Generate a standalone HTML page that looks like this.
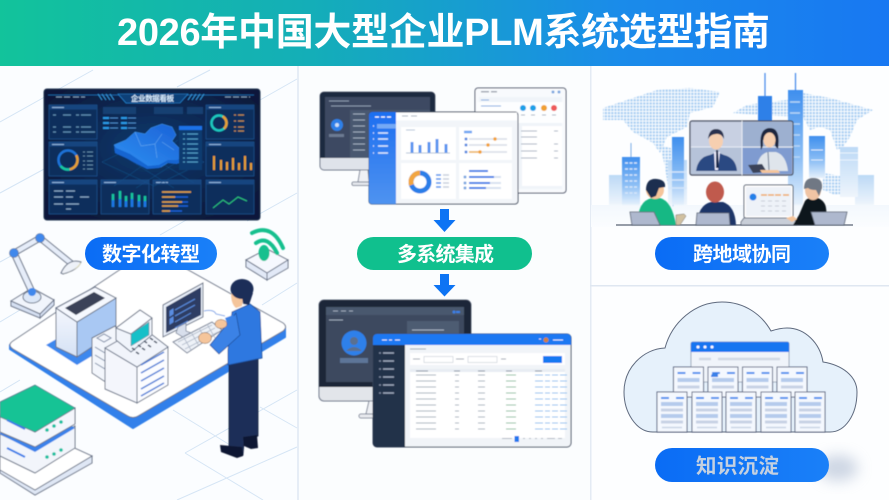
<!DOCTYPE html>
<html lang="zh"><head><meta charset="utf-8"><title>2026年中国大型企业PLM系统选型指南</title>
<style>html,body{margin:0;padding:0;background:#fff}svg{display:block}text{font-family:"Liberation Sans","Noto Sans CJK SC",sans-serif}</style></head>
<body>
<svg xmlns="http://www.w3.org/2000/svg" width="889" height="500" viewBox="0 0 889 500">
<defs>
<linearGradient id="hd" x1="0" x2="1" y1="0" y2="0"><stop offset="0" stop-color="#12c39b"/><stop offset=".35" stop-color="#14aeb8"/><stop offset=".7" stop-color="#1a8bea"/><stop offset="1" stop-color="#1878f2"/></linearGradient>
<linearGradient id="pb" x1="0" x2="1" y1="0" y2="0"><stop offset="0" stop-color="#0a6cf5"/><stop offset="1" stop-color="#1a80f8"/></linearGradient>
<linearGradient id="bld" x1="0" x2="0" y1="0" y2="1"><stop offset="0" stop-color="#3f8fee"/><stop offset=".6" stop-color="#8fc0f5"/><stop offset="1" stop-color="#e6f1fc"/></linearGradient>
<linearGradient id="bld2" x1="0" x2="0" y1="0" y2="1"><stop offset="0" stop-color="#bcd9f6"/><stop offset="1" stop-color="#eef5fc"/></linearGradient>
<linearGradient id="side" x1="0" x2="0" y1="0" y2="1"><stop offset="0" stop-color="#f4f7fd"/><stop offset="1" stop-color="#d5e1f5"/></linearGradient>
<linearGradient id="sb" x1="0" x2="0" y1="0" y2="1"><stop offset="0" stop-color="#1d6ff0"/><stop offset="1" stop-color="#4f93f0"/></linearGradient>
<linearGradient id="band" x1="0" x2="0" y1="0" y2="1"><stop offset="0" stop-color="#f3f8fd"/><stop offset="1" stop-color="#fbfdff"/></linearGradient>
<linearGradient id="mp" x1="0" x2="1" y1="1" y2="0"><stop offset="0" stop-color="#2f92f2"/><stop offset="1" stop-color="#1a5fd6"/></linearGradient>
<radialGradient id="dash" cx=".5" cy=".45" r=".6"><stop offset="0" stop-color="#103a70"/><stop offset="1" stop-color="#07193a"/></radialGradient>
<pattern id="dots" width="3.2" height="3.2" patternUnits="userSpaceOnUse"><rect width="2.200" height="2.200" fill="#a8cdf2"/></pattern>
<filter id="s" x="-5%" y="-5%" width="110%" height="110%"><feGaussianBlur stdDeviation=".4"/></filter>
<filter id="b" x="-50%" y="-50%" width="200%" height="200%"><feGaussianBlur stdDeviation="7"/></filter>
<g id="doc"><rect width="30" height="40" fill="#f4f8fe" stroke="#5f6b85" stroke-width="1"/><path d="M4 6h8M19 6h8" stroke="#4a90ee" stroke-width="2"/><path d="M4 12h22M4 24h22" stroke="#b5cbec" stroke-width="4"/><path d="M4 18h22M4 30h22" stroke="#c8d3e4" stroke-width="3"/><path d="M5 35.500h20" stroke="#c8d3e4" stroke-width="1.500"/></g>
<g id="doct"><rect width="30" height="30" fill="#f4f8fe" stroke="#5f6b85" stroke-width="1"/><path d="M4 6h8M19 6h8" stroke="#4a90ee" stroke-width="2"/><path d="M4 13h22" stroke="#b5cbec" stroke-width="4"/><path d="M4 20h22" stroke="#c8d3e4" stroke-width="3"/></g>
<g id="pn"><rect width="48" height="34" fill="#0d2f5c" stroke="#1d5a9c" stroke-width=".6"/><rect x=".5" y=".5" width="47" height="4" fill="#15457f"/><path d="M3 2.500h12" stroke="#8fb7e0" stroke-width="1"/></g>
</defs>

<rect width="889" height="500" fill="#fdfeff"/>
<rect x="0" y="0" width="889" height="66" fill="url(#hd)"/>
<text x="117" y="45" font-size="38" font-weight="700" fill="#fff" textLength="653" lengthAdjust="spacing">2026年中国大型企业PLM系统选型指南</text>

<!-- panel dividers -->
<rect x="297" y="66" width="2" height="434" fill="#e6edf6"/>
<rect x="590" y="66" width="1.500" height="434" fill="#e4ebf4"/>
<rect x="590" y="285" width="299" height="1.500" fill="#dfe7f1"/>
<rect x="0" y="66" width="297" height="434" fill="#fbfdff"/>
<rect x="299" y="66" width="291" height="434" fill="#fbfdfe"/>

<!-- left grid -->
<g stroke="#d5e5f5" stroke-width="1" fill="none">
<path d="M0 122L93 70M177 87L210 70M260 100L297 79M0 193L70 155M0 262L40 240M0 322L20 310M0 392L20 380M247 221L297 193M262 305L297 283M160 235L195 215M185 453L297 390M185 453L263 500M177 500L297 447M260 407L297 428M173 410L230 445M100 290L125 276"/>
</g>

<g filter="url(#s)">
<!-- dashboard -->
<rect x="44" y="89" width="216" height="131" rx="3" fill="url(#dash)" stroke="#24344f" stroke-width="1"/>
<path d="M48 95h42l30 0 6 8h48l8-8h72" stroke="#1f70b8" stroke-width=".8" fill="none"/>
<path d="M118 94h70l-8 9h-54z" fill="#0f3f78" stroke="#2a8ad8" stroke-width=".6"/>
<path d="M98 94l4 6M102 94l4 6M106 94l4 6M110 94l4 6M188 100l4-6M192 100l4-6M196 100l4-6M200 100l4-6" stroke="#3aa0e8" stroke-width=".8"/>
<text x="131" y="101" font-size="7.500" font-weight="700" fill="#dcefff" textLength="43" lengthAdjust="spacing">企业数据看板</text>
<path d="M56 97h14M73 97h12M225 97h25" stroke="#7d98b8" stroke-width="1" stroke-dasharray="6 2"/>
<use href="#pn" x="49" y="105"/>
<use href="#pn" x="49" y="142"/>
<use href="#pn" x="49" y="180"/>
<use href="#pn" x="101" y="180"/>
<use href="#pn" x="153" y="180"/>
<use href="#pn" x="206" y="180"/>
<use href="#pn" x="206" y="105"/>
<use href="#pn" x="206" y="142"/>
<!-- panel 1 -->
<path d="M53 115h3M63 115h8M53 127h3M63 127h8M76 115h3M81 115h10M76 127h3M81 127h10M53 132h3M63 132h8M76 132h3M81 132h14" stroke="#5f90b4" stroke-width="1.200"/>
<!-- ring 2 -->
<circle cx="68" cy="160" r="9.500" fill="none" stroke="#1e72d8" stroke-width="2.500"/>
<circle cx="68" cy="160" r="9.500" fill="none" stroke="#e8a030" stroke-width="2.500" stroke-dasharray="18 60" transform="rotate(-30 68 160)"/>
<circle cx="68" cy="160" r="9.500" fill="none" stroke="#19c8a0" stroke-width="2.500" stroke-dasharray="10 60" transform="rotate(80 68 160)"/>
<path d="M83 152h2M87 152h6M83 156h2M87 156h6M83 161h2M87 161h6M83 165h2M87 165h6M83 169h2M87 169h6" stroke="#5f88a8" stroke-width="1"/>
<!-- panel 3 -->
<path d="M54 191h9M66 191h9M54 197h9M66 197h7M80 197h9M54 204h9M66 204h13M66 209h5" stroke="#8aa8c6" stroke-width="1.200"/>
<!-- bars -->
<path d="M113 207V194M120 207V191M126 207V196M132 207V193M139 207V195M145 207V196" stroke="#19c8a0" stroke-width="2.500"/>
<path d="M113 207V200M120 207V199M126 207V201M132 207V199M139 207V201M145 207V201" stroke="#1e72e8" stroke-width="2.500"/>
<path d="M162 192h29M162 197h26M162 202h26M162 206h26M162 211h20" stroke="#1e5fd8" stroke-width="1.500"/>
<path d="M162 192h29M162 197h13M162 202h20M162 206h16M162 211h8" stroke="#e8a030" stroke-width="1.500"/>
<path d="M213 208l10-8 6 4 9-7 9 4" stroke="#2ec87e" stroke-width="1" fill="none"/>
<!-- right panels -->
<circle cx="219" cy="123" r="7.500" fill="none" stroke="#1fc8c0" stroke-width="2.500"/>
<circle cx="219" cy="123" r="7.500" fill="none" stroke="#e8a030" stroke-width="2.500" stroke-dasharray="14 60" transform="rotate(-60 219 123)"/>
<path d="M234 115h2M238 115h6M234 121h2M238 121h6M234 127h2M238 127h6M234 131h2M238 131h6" stroke="#c08a50" stroke-width="1.200"/>
<path d="M215 170V156M222 170V160M228 170V162M234 170V158M240 170V163M246 170V156M252 170V163" stroke="#e8a030" stroke-width="2" transform="translate(-1 0)"/>
<!-- map -->
<g stroke="none"><path d="M103 107h33v7h-33zM154 107h29v7h-29zM187 107h16v7h-16z" fill="#173f72"/>
<path d="M103 118h6M121 118h6M103 123h6M121 123h6M103 128h6M121 128h6" stroke="#2a9ae8" stroke-width="2"/>
<path d="M110 118h8M128 118h8M110 123h8M128 123h8M110 128h8M128 128h8" stroke="#4a88c8" stroke-width="1"/></g>
<path d="M102 162l50-24 52 24-50 24z M114 150l60 38M132 145l62 38M178 140l-64 46M196 150l-60 38" stroke="#15528c" stroke-width=".5" fill="none"/>
<path d="M114 145l12-5 9-8 10 2 6-6 11-4 10 3 4 8-4 6 8 8 7 8-8 6-10-1-8 5-12 1-8-5-10-4-10-5z" fill="url(#mp)" stroke="#3d95ee" stroke-width=".5"/>
<path d="M114 145l2 3 14 6 9 6 9 6 11-1 9-5 9 0 8-5 0 3-8 6-10-1-8 5-12 1-10-5-9-5-13-6z" fill="#1565d0"/>
<path d="M135 132l6 14 14-2 7-10M155 144l2 14M162 142l12 8" stroke="#6ab0f2" stroke-width=".5" fill="none"/>
<rect x="179" y="126" width="23" height="44" fill="#0f3a70"/><rect x="179" y="126" width="23" height="4" fill="#1e72e8"/>
<path d="M183 134h2M187 134h11M183 139h2M187 139h11M183 144h2M187 144h11M183 149h2M187 149h11M183 153h2M187 153h11M183 158h2M187 158h11M183 162h2M187 162h11" stroke="#4f9cc4" stroke-width="1.200"/>
</g>

<!-- left isometric -->
<g filter="url(#s)">
<path d="M10 349L133 428L285 337L285 327L133 418L10 345z" fill="#3080ea" stroke="#3080ea" stroke-width="2" stroke-linejoin="round"/>
<path d="M13 341L148 251Q152 249 156 252L283 323Q288 327 283 331L138 416Q133 419 128 416L13 349Q7 345 13 341z" fill="#fff" stroke="#6a7488" stroke-width="1"/>
<!-- printer -->
<path d="M46 345L77 327L110 345L77 365z" fill="#3d88ee"/>
<path d="M56 308V347L77 357V322z" fill="url(#side)" stroke="#6a7488"/>
<path d="M77 322L116 298V331L77 357z" fill="#a9c8f3" stroke="#6a7488"/>
<path d="M56 308L95 287L116 298L77 322z" fill="#f5f8fe" stroke="#6a7488"/>
<path d="M65 308L94 292L105 298L76 315z" fill="#3a4358"/>
<!-- tower -->
<path d="M92 338L115 326L128 340V375L107 383L92 373z" fill="#f3f6fc" stroke="#6a7488"/>
<path d="M95 347l10 6M95 355l10 6M95 363l10 6" stroke="#7b8aa4"/><path d="M97 338l7-4 7 4-7 4z" fill="none" stroke="#7b8aa4"/>
<!-- main cube -->
<path d="M105 348V389L137 403V367z" fill="#f4f6fc" stroke="#6a7488"/>
<path d="M137 367L168 347V385L137 403z" fill="#fbfcff" stroke="#6a7488"/>
<path d="M105 348L142 327L168 347L137 367z" fill="#f1f4fb" stroke="#6a7488"/>
<path d="M141 365l23-13M141 373l23-13M141 381l23-13M141 389l23-13M141 396l23-13" stroke="#4d7fd8" stroke-width="1.500"/>
<path d="M116 328L140 310L152 318V335L131 352L116 340z" fill="#f0f4fb" stroke="#6a7488"/>
<path d="M116 328L140 310L152 318L131 334z" fill="#fafcff" stroke="#6a7488"/>
<path d="M131 334L149 322V335L131 346z" fill="#19c0c8" stroke="#6a7488" stroke-width=".5"/>
<path d="M132 348l3 2M138 345l3 2M144 341l3 2M150 338l3 2M136 352l3 2M142 348l3 2M148 345l3 2M154 341l3 2" stroke="#4a5468" stroke-width="1.500"/>
<!-- desktop -->
<path d="M163 305L203 283V317L163 337z" fill="#e8eef8" stroke="#6a7488"/>
<path d="M166 307L201 287V315L166 333z" fill="#2f3e63"/>
<path d="M170 311l3-2v5l-3 2zM170 319l3-2v5l-3 2zM175 310l20-11M175 316l20-11M175 322l16-9M175 328l13-7" stroke="#5a8ce0" fill="#5a8ce0" stroke-width="1"/>
<path d="M178 327l8-4v8l8 3-8 5-10-6z" fill="#d8dfec" stroke="#7a8498" stroke-width=".8"/>
<path d="M204 311q10-2 12 3l9 2" stroke="#7aa4e8" stroke-width="1" fill="none"/>
<path d="M173 342L212 322L222 330L187 353z" fill="#eef2f8" stroke="#7a8498"/>
<path d="M178 342l34-17M182 345l33-17M185 349l33-17M183 336l8 14M191 332l8 14M199 328l8 14M207 324l8 14" stroke="#aeb8c8" stroke-width=".8"/>
<!-- person -->
<path d="M229 360L258 357V436L244 442L243 455L229 449z" fill="#1f2f58" stroke="#141e3c" stroke-width=".8"/>
<path d="M243 437l14-2 1 13-7 1-7-3z" fill="#101830"/><path d="M220 445l22 2 1 9-6 2-16-6z" fill="#101830"/>
<path d="M232 312L250 304L260 312L262 358L228 365L228 350z" fill="#2f78e0" stroke="#1f4e9a" stroke-width=".8"/>
<path d="M236 313L210 345L219 354L240 335z" fill="#3a82e6" stroke="#1f4e9a" stroke-width=".8"/>
<ellipse cx="205" cy="338" rx="6.500" ry="5.500" fill="#f5c59b" stroke="#6a5040" stroke-width=".5"/><ellipse cx="221" cy="324" rx="6" ry="4.500" fill="#f5c59b" stroke="#6a5040" stroke-width=".5"/>
<path d="M225 318l8-3 4 5-8 8z" fill="#3a82e6"/>
<path d="M231 294q0 10 5 14l6-2 2-12z" fill="#f5c59b"/>
<ellipse cx="242" cy="289" rx="11.500" ry="10" fill="#1f2f58"/><path d="M236 292l6 4 1 8 6 1 4-12z" fill="#1f2f58"/>
<!-- robot arm -->
<path d="M11 301L32 288L54 300L40 314z" fill="#f1f5fc" stroke="#6a7488"/><path d="M11 301V306L40 318V314zM40 318L54 305V300L40 314z" fill="#d5e0f2" stroke="#6a7488"/>
<ellipse cx="32" cy="297" rx="9" ry="6" fill="#dce7f7" stroke="#6a7488"/>
<path d="M14 253L32 292" stroke="#6a7488" stroke-width="7" stroke-linecap="round"/><path d="M14 253L32 292" stroke="#e6edf9" stroke-width="5" stroke-linecap="round"/>
<path d="M14 253L40 238L72 264" stroke="#6a7488" stroke-width="6.500" fill="none" stroke-linejoin="round"/><path d="M14 253L40 238L72 264" stroke="#e6edf9" stroke-width="4.500" fill="none" stroke-linejoin="round"/>
<circle cx="14" cy="253" r="4.500" fill="#3f88ec" stroke="#6a7488" stroke-width=".6"/><circle cx="40" cy="238" r="4.500" fill="#3f88ec" stroke="#6a7488" stroke-width=".6"/><circle cx="32" cy="292" r="4" fill="#3f88ec"/>
<path d="M61 273Q68 258 81 262Q78 270 63 274z" fill="#eef2f8" stroke="#6a7488"/><path d="M62 274Q72 274 81 262Q80 268 65 274z" fill="#f5efc0"/>
<!-- wifi device -->
<path d="M246 260L267 249L288 260L267 273z" fill="#f6f8fe" stroke="#6a7488"/><path d="M246 260V267L267 280V273zM267 280L288 268V260L267 273z" fill="#e2e9f7" stroke="#6a7488"/>
<ellipse cx="264" cy="253" rx="5.500" ry="8" fill="#14c08e"/>
<path d="M256 243q12-8 21 10M252 233q20-10 31 15" stroke="#14c08e" stroke-width="4" fill="none" stroke-linecap="round"/>
<!-- stack -->
<path d="M0 468V473L35 495L92 463V456L35 488L0 466z" fill="#dfe7f5" stroke="#6a7488"/>
<path d="M0 452L35 430L92 456L35 490L0 470z" fill="#fff" stroke="#6a7488"/>
<path d="M0 434V456L35 473L75 448V426L35 450z" fill="#f2f5fb" stroke="#6a7488"/>
<path d="M0 428L35 405L75 428L35 452L0 434z" fill="#3a82ea"/>
<path d="M0 415V432L35 447L75 424V408L35 432z" fill="#f4f6fc" stroke="#6a7488"/>
<path d="M0 402L35 385L75 408L35 432L0 417z" fill="#14c395" stroke="#55708a" stroke-width=".7"/>
<path d="M7 420l18 9M7 448l18 9" stroke="#3a7ee8" stroke-width="2"/>
<circle cx="47" cy="430" r="1.800" fill="#14c0a0"/><circle cx="54" cy="426" r="1.800" fill="#14c0a0"/><circle cx="61" cy="422" r="1.800" fill="#14c0a0"/><circle cx="47" cy="457" r="1.800" fill="#14c0a0"/><circle cx="54" cy="454" r="1.800" fill="#14c0a0"/><circle cx="61" cy="450" r="1.800" fill="#14c0a0"/>
</g>
<rect x="85" y="237" width="132" height="33" rx="16.500" fill="url(#pb)"/>
<text x="102" y="261" font-size="20" font-weight="700" fill="#fff" textLength="98" lengthAdjust="spacing">数字化转型</text>

<!-- middle top -->
<g filter="url(#s)">
<rect x="320" y="92" width="115" height="78" rx="4" fill="#dfe3ea" stroke="#6a7488"/>
<path d="M320 158V96a4 4 0 0 1 4-4h107a4 4 0 0 1 4 4v62z" fill="#1e2a40"/>
<rect x="325" y="97" width="105" height="61" fill="#3c4a62"/><rect x="350" y="110" width="80" height="48" fill="#4a5870"/>
<path d="M329 101h20M331 106h40" stroke="#8a98ae" stroke-width="1"/>
<circle cx="337" cy="125" r="6" fill="#2f80e8"/><circle cx="337" cy="125" r="2" fill="#cfe0f5"/><rect x="329" y="134" width="15" height="3" fill="#6c7a92"/>
<path d="M353 114h12M353 120h12M353 126h12M353 132h12M353 138h12M353 144h12M353 150h12" stroke="#a0acc0"/>
<path d="M360 170l-2 12h11l-1-12z" fill="#eef0f4" stroke="#6a7488" stroke-width=".8"/><rect x="352" y="182" width="26" height="3.500" rx="1.500" fill="#e4e7ec" stroke="#6a7488" stroke-width=".8"/>
<rect x="475" y="88" width="91" height="105" rx="3" fill="#f8fafd" stroke="#465068" stroke-width="1"/>
<rect x="479" y="97" width="83" height="92" fill="#f0f4f9"/><rect x="477" y="102" width="86" height="21" fill="#fdfeff"/>
<rect x="481" y="91" width="8" height="1.500" fill="#a0a8b4"/><rect x="491" y="91" width="6" height="1.500" fill="#a0a8b4"/>
<path d="M481 100h8M481 106h20" stroke="#7ea8e0" stroke-width="1"/>
<circle cx="523" cy="108" r="3" fill="#1fa0e8"/><circle cx="533" cy="108" r="3" fill="#1fa0e8"/><circle cx="544" cy="108" r="3" fill="#f0a030"/><circle cx="554" cy="108" r="3" fill="#ee5a5a"/>
<path d="M521 115h4M531 115h4M542 115h4M552 115h4" stroke="#a8b4c4" stroke-width="1"/>
<rect x="522" y="126" width="40" height="60" fill="#fff"/>
<path d="M521 131h16M521 137h16M521 144h16M521 151h16M521 158h16M554 131h4M554 144h4M554 151h4M554 158h4" stroke="#aab4c4" stroke-width="1"/>
<circle cx="553" cy="92" r="1.500" fill="#7ea8e0"/><circle cx="559" cy="92" r="1.500" fill="#7ea8e0"/>
<rect x="369" y="112" width="149" height="92" rx="3" fill="#f2f5f9" stroke="#3e485e" stroke-width="1"/>
<path d="M369 115a3 3 0 0 1 3-3h24v92h-24a3 3 0 0 1-3-3z" fill="url(#sb)"/>
<rect x="396" y="112.500" width="121" height="8" fill="#fff"/><rect x="377" y="124" width="19" height="4.500" fill="#75a9f5"/>
<path d="M375 117h4M381 117h4M387 117h4" stroke="#fff" stroke-width="1.200"/>
<path d="M373 126h1M373 133h1M373 139h1M373 146h1M373 153h1M378 133h10M378 139h10M378 146h10M378 153h10" stroke="#dde9fc" stroke-width="1.500"/>
<path d="M402 116h6M411 116h6" stroke="#a8b0c0"/>
<rect x="401" y="127" width="55" height="33" fill="#fff"/><rect x="459" y="127" width="53" height="33" fill="#fff"/><rect x="401" y="163" width="55" height="36" fill="#fff"/><rect x="459" y="163" width="53" height="36" fill="#fff"/>
<path d="M412 153V142M420 153V145M429 153V142M437 153V139M446 153V144" stroke="#5a95f0" stroke-width="3"/>
<path d="M406 130h9M406 153h44" stroke="#9ab0cc" stroke-width=".8"/>
<path d="M464 132h8" stroke="#6ea4f2" stroke-width="2.500"/><path d="M469 139h38M469 145h38M469 152h38" stroke="#d8dde6" stroke-width="1.500"/>
<path d="M469 152h11" stroke="#f0b050" stroke-width="1.500"/>
<circle cx="466" cy="139" r="1.500" fill="#5a8be0"/><circle cx="466" cy="145" r="1.500" fill="#5a8be0"/><circle cx="466" cy="152" r="1.500" fill="#5a8be0"/>
<circle cx="495" cy="139" r="1.700" fill="#f2a030"/><circle cx="488" cy="145" r="1.700" fill="#f2a030"/><circle cx="480" cy="152" r="1.700" fill="#f2a030"/>
<circle cx="420" cy="182" r="9" fill="none" stroke="#2b7ee8" stroke-width="5"/>
<path d="M420 173a9 9 0 0 0-8.500 12" fill="none" stroke="#f2a640" stroke-width="5"/>
<path d="M436 175h5M436 179h5M436 183h5M436 187h5" stroke="#4a90ee" stroke-width="1.500"/><path d="M443 175h6M443 179h6M443 183h6M443 187h6" stroke="#c8d0dc" stroke-width="1.500"/>
<path d="M469 171h19M469 177h25M469 183h21M469 188h17" stroke="#3a7ee8" stroke-width="2"/><path d="M494 177h7M490 183h11M486 188h15" stroke="#d8e2f0" stroke-width="2"/>
<circle cx="465" cy="177" r="1.500" fill="#7ea8e0"/><circle cx="465" cy="183" r="1.500" fill="#7ea8e0"/><circle cx="465" cy="188" r="1.500" fill="#7ea8e0"/>
</g>
<path d="M440 209h9v11h6.500l-11 12-11-12h6.500z" fill="#0d74f4"/>
<rect x="357" y="237" width="175" height="33" rx="16.500" fill="#10c08e"/>
<text x="397" y="261" font-size="20" font-weight="700" fill="#fff" textLength="97" lengthAdjust="spacing">多系统集成</text>
<path d="M440 274h9v11h6.500l-11 11.500-11-11.500h6.500z" fill="#0d74f4"/>

<!-- middle bottom -->
<g filter="url(#s)">
<rect x="319" y="300" width="152" height="101" rx="5" fill="#e2e5ea" stroke="#6a7488"/>
<path d="M319 387V305a5 5 0 0 1 5-5h142a5 5 0 0 1 5 5v82z" fill="#1e2738"/>
<rect x="326" y="307" width="138" height="75" fill="#3c495e"/><rect x="326" y="307" width="138" height="8" fill="#4a586e"/>
<path d="M333 311h5M341 311h5M349 311h4M329 320h14" stroke="#9ca8ba"/>
<circle cx="454" cy="312" r="1.500" fill="#3a80e8"/><rect x="456" y="311" width="4" height="2" fill="#3a80e8"/>
<rect x="407" y="321" width="52" height="18" fill="#4d5b72"/><path d="M412 330h32" stroke="#a8b4c4"/>
<circle cx="354" cy="343" r="12.500" fill="#2f80ea"/><circle cx="354" cy="341" r="4" fill="#5a7090"/><path d="M346 351q8-8 16 0z" fill="#5a7090"/>
<rect x="340" y="358" width="28" height="5" fill="#5d7598"/>
<path d="M369 401l-3 13h13l-2-13z" fill="#eef0f4" stroke="#6a7488" stroke-width=".8"/><rect x="359" y="414" width="22" height="4" rx="2" fill="#e8eaef" stroke="#6a7488" stroke-width=".8"/>
<rect x="373" y="334" width="198" height="113" rx="4" fill="#f1f4f8" stroke="#3e485e"/>
<path d="M373 345v-7a4 4 0 0 1 4-4h190a4 4 0 0 1 4 4v7z" fill="#1d78f2"/>
<path d="M373 345h32v102h-28a4 4 0 0 1-4-4z" fill="#24304a"/>
<path d="M382 340h5M389 340h3M395 340h5M553 340h10" stroke="#e2ecfb"/><circle cx="546" cy="340" r="2.500" fill="#d08040"/><path d="M539 339h2" stroke="#dde"/>
<path d="M383 353h11M383 361h11M383 369h11M383 377h11M383 385h11M383 393h11" stroke="#9ca8bc" stroke-width="1.500"/>
<path d="M379 353h2M379 361h2M379 369h2M379 377h2M379 385h2M379 393h2" stroke="#7a889e" stroke-width="1.500"/>
<rect x="410" y="353" width="155" height="12" fill="#fff"/><rect x="424" y="356.500" width="29" height="6" fill="#fff" stroke="#b8c0cc" stroke-width=".5"/><rect x="468" y="356.500" width="29" height="6" fill="#fff" stroke="#b8c0cc" stroke-width=".5"/>
<path d="M413 359h7M456 359h8M501 359h5M410 349h16" stroke="#a0a8b4"/>
<rect x="543" y="356" width="19" height="7" fill="#1278f2"/>
<rect x="410" y="369" width="155" height="6" fill="#e8edf3"/><rect x="410" y="372" width="155" height="66" fill="#fff"/>
<path d="M416 371h12M454 371h6M478 371h7M506 371h6M535 371h7" stroke="#8a94a4"/>
<g stroke="#a8b0be" stroke-width="1"><path d="M416 375h20M455 375h4M478 375h7M416 381h20M455 381h4M478 381h7M416 387h20M455 387h4M478 387h7M416 393h20M455 393h4M478 393h7M416 399h20M455 399h4M478 399h7M416 405h20M455 405h4M478 405h7M416 411h20M455 411h4M478 411h7M416 417h20M455 417h4M478 417h7M416 423h20M455 423h4M478 423h7M416 429h20M455 429h4M478 429h7"/></g>
<g stroke="#8dc0a0" stroke-width="1"><path d="M506 375h10M506 381h10M506 387h10M506 393h10M506 399h10M506 405h10M506 411h10M506 417h10M506 423h10M506 429h10"/></g>
<g stroke="#8cc0f0" stroke-width="1" stroke-dasharray="8 2 5 2 6 2"><path d="M535 375h32M535 381h32M535 387h32M535 393h32M535 399h32M535 405h32M535 411h32M535 417h32M535 423h32M535 429h32"/></g>
<rect x="514.500" y="436" width="4.500" height="6" fill="#2478ee"/>
<path d="M502 438.500h10M523 438.500h2M529 438.500h2M535 438.500h2M541 438.500h2M547 438.500h8M558 438.500h4" stroke="#b0b8c4"/>
</g>

<!-- right top -->
<rect x="591" y="205" width="298" height="22" fill="url(#band)"/>
<g filter="url(#s)">
<path d="M603 108L633 98L657 90L690 88L720 92L713 107L690 113L687 127L667 137L660 153L653 143L633 132L623 120L603 120z" fill="url(#dots)"/>
<path d="M660 145L677 150L688 167L680 187L673 207L668 187L665 167z" fill="url(#dots)"/>
<path d="M733 113L747 105L760 103L787 100L803 93L830 98L873 110L857 120L850 137L843 147L837 150L830 130L820 127L810 130L803 117L760 115z" fill="url(#dots)"/>
<path d="M823 173L848 177L848 193L835 195L823 190z" fill="url(#dots)"/>
<rect x="609" y="175" width="13" height="30" fill="url(#bld2)"/><rect x="855" y="175" width="19" height="30" fill="url(#bld2)"/><rect x="840" y="147" width="18" height="50" fill="url(#bld2)"/>
<path d="M840 153h18M840 160h18" stroke="#eaf3fc"/>
<rect x="622" y="157" width="18" height="48" fill="url(#bld)"/><path d="M631 143v14" stroke="#7aaee8"/>
<path d="M625 163h12M625 169h12M625 175h12M625 181h12M625 187h12M625 193h12" stroke="#d6e6fa" stroke-width="1.500" stroke-dasharray="3 1.500"/>
<rect x="668" y="160" width="19" height="45" fill="url(#bld2)"/><rect x="672" y="137" width="12" height="68" fill="url(#bld)"/>
<path d="M668 172h19M668 180h19M668 188h19" stroke="#d6e6fa" stroke-width="1.500"/>
<rect x="758" y="96" width="14" height="30" fill="#2f80e8"/><path d="M765 73v24" stroke="#3c85e8" stroke-width="1.200"/>
<rect x="788" y="90" width="15" height="115" fill="url(#bld)"/><path d="M795.500 73v18" stroke="#3c85e8" stroke-width="1.200"/>
<path d="M790 102h10M790 113h10M790 124h10M790 135h10M790 146h10M790 157h10" stroke="#b8d6f6" stroke-width="1.500"/>
<rect x="809" y="136" width="16" height="42" fill="url(#bld)"/>
<path d="M811 150h12M811 160h12" stroke="#e0eefc"/>
<rect x="690" y="121" width="103" height="54" rx="2" fill="#c8d0e2" stroke="#3a4358" stroke-width="1.200"/>
<rect x="742" y="122" width="50" height="26" fill="#9db0d0"/><rect x="742" y="148" width="50" height="26" fill="#7f9bd0"/><rect x="691" y="147" width="51" height="27" fill="#b6c3d9"/>
<path d="M742 121V175M691 147H793" stroke="#e8edf5"/>
<path d="M696 171q2-14 14-16l7-3 7 3q12 3 13 16z" fill="#2a4a82"/><path d="M714 152l3 0 3 0-2 18h-3z" fill="#eef"/><path d="M716 150l2 0 1 18h-3z" fill="#1a2a4e"/>
<ellipse cx="716" cy="141" rx="7" ry="8.500" fill="#f6cfb0"/><path d="M708 139q1-10 8-10q8 0 8 10q-3-6-8-5q-5 0-8 5z" fill="#2b3350"/>
<path d="M756 171q2-17 12-19h8q10 3 12 19z" fill="#dfe5ec"/><path d="M768 152l1 18" stroke="#6a7a90"/>
<path d="M761 150q-3-22 9-22q11 0 8 21l-3-3v-6h-12v6z" fill="#1f2740"/><ellipse cx="769.500" cy="140" rx="6" ry="7.500" fill="#f6cfb0"/>
<path d="M748 165l14-1 5 8-14 1z" fill="#3a4358"/><path d="M760 170l18 0 2 3h-18z" fill="#f5c59b"/>
</g>
<path d="M616 225h237" stroke="#5a6474" stroke-width="1.200"/>
<g filter="url(#s)">
<path d="M638 225q-1-24 14-27h8q12 3 16 27z" fill="#14b884"/><ellipse cx="655" cy="190" rx="9" ry="9" fill="#f5c59b"/><path d="M646 190q0-12 11-11 9 1 8 8l-6 1-3 8-5 2z" fill="#1f2f50"/>
<path d="M630 212h24l6 13h-28z" fill="#aeb8ce" stroke="#5a6474" stroke-width=".8"/>
<path d="M676 215l8-1 2 2-6 9-4 0z" fill="#d0c0a0" stroke="#6a6a6a" stroke-width=".5"/>
<path d="M697 225q1-20 14-23l12 0q12 4 13 23z" fill="#1f3468"/><ellipse cx="715" cy="192" rx="9" ry="10.500" fill="#c05a4e"/>
<path d="M697 213h32l1 12h-34z" fill="#aeb8ce" stroke="#5a6474" stroke-width=".8"/>
<rect x="744" y="185" width="49" height="33" rx="2" fill="#fff" stroke="#555f72"/><rect x="746" y="187" width="45" height="29" fill="#eef2f8"/>
<circle cx="753" cy="197" r="3.500" fill="#2480e8"/><path d="M761 195h6M768 195h6M775 195h6M783 195h6" stroke="#f0a860" stroke-width="1.500"/><path d="M761 201h28M761 206h28M761 211h28" stroke="#c8cdd8" stroke-dasharray="4 3"/>
<path d="M741 222l3-4h49l4 4v3h-56z" fill="#c8ced8" stroke="#555f72" stroke-width=".8"/>
<path d="M793 225l6-10 6-14q4-5 13-3 7 3 8 10l2 17z" fill="#10141c"/><ellipse cx="813" cy="190" rx="8" ry="10" fill="#f0c4a4"/><path d="M804 189q0-11 9-11 10 0 9 10l-3 8-3-6q-6 0-8-2z" fill="#707884"/>
<path d="M786 218l7-2 4 3-5 3z" fill="#f5c59b"/>
<path d="M811 212h36l-3 13h-29z" fill="#aeb8ce" stroke="#5a6474" stroke-width=".8"/>
</g>
<rect x="655" y="237" width="174" height="33" rx="16.500" fill="url(#pb)"/>
<text x="693" y="261" font-size="20" font-weight="700" fill="#fff" textLength="98" lengthAdjust="spacing">跨地域协同</text>

<!-- right bottom -->
<path d="M653 432C636 432 624 412 624 392C624 368 643 349 665 348C672 322 695 302 722 302C745 302 762 315 771 331C777 329 782 328 787 328C805 328 820 343 823 362C842 365 857 376 857 392C857 415 845 432 830 432z" fill="#e6f1fb" stroke="#5f6a7e" stroke-width="1"/>
<g filter="url(#s)">
<rect x="691" y="342" width="98" height="40" rx="2" fill="#f0f4fa" stroke="#8a96aa" stroke-width=".8"/>
<path d="M691 352v-8a2 2 0 0 1 2-2h94a2 2 0 0 1 2 2v8z" fill="#1274f0"/>
<circle cx="698" cy="347" r="1.500" fill="#fff"/><circle cx="705" cy="347" r="1.500" fill="#fff"/><circle cx="712" cy="347" r="1.500" fill="#fff"/>
<path d="M699 359h12M718 359h62" stroke="#d0d8e4" stroke-width="2.500"/>
<use href="#doct" x="673.500" y="367"/><use href="#doct" x="708" y="367"/><use href="#doct" x="742.500" y="367"/><use href="#doct" x="777" y="367"/>
<path d="M711 376q1-4 7-4v5h-7z" fill="#3a80e8"/>
<use href="#doc" x="657" y="392"/><use href="#doc" x="692" y="392"/><use href="#doc" x="726" y="392"/><use href="#doc" x="761" y="392"/><use href="#doc" x="795" y="392"/>
</g>
<ellipse cx="838" cy="468" rx="20" ry="13" fill="#aebcd2" opacity=".6" filter="url(#b)"/>
<rect x="655" y="448" width="174" height="34" rx="17" fill="url(#pb)"/>
<text x="696" y="473" font-size="20.500" font-weight="700" fill="#c4d0e0" textLength="83" lengthAdjust="spacing">知识沉淀</text>
</svg>
</body></html>
